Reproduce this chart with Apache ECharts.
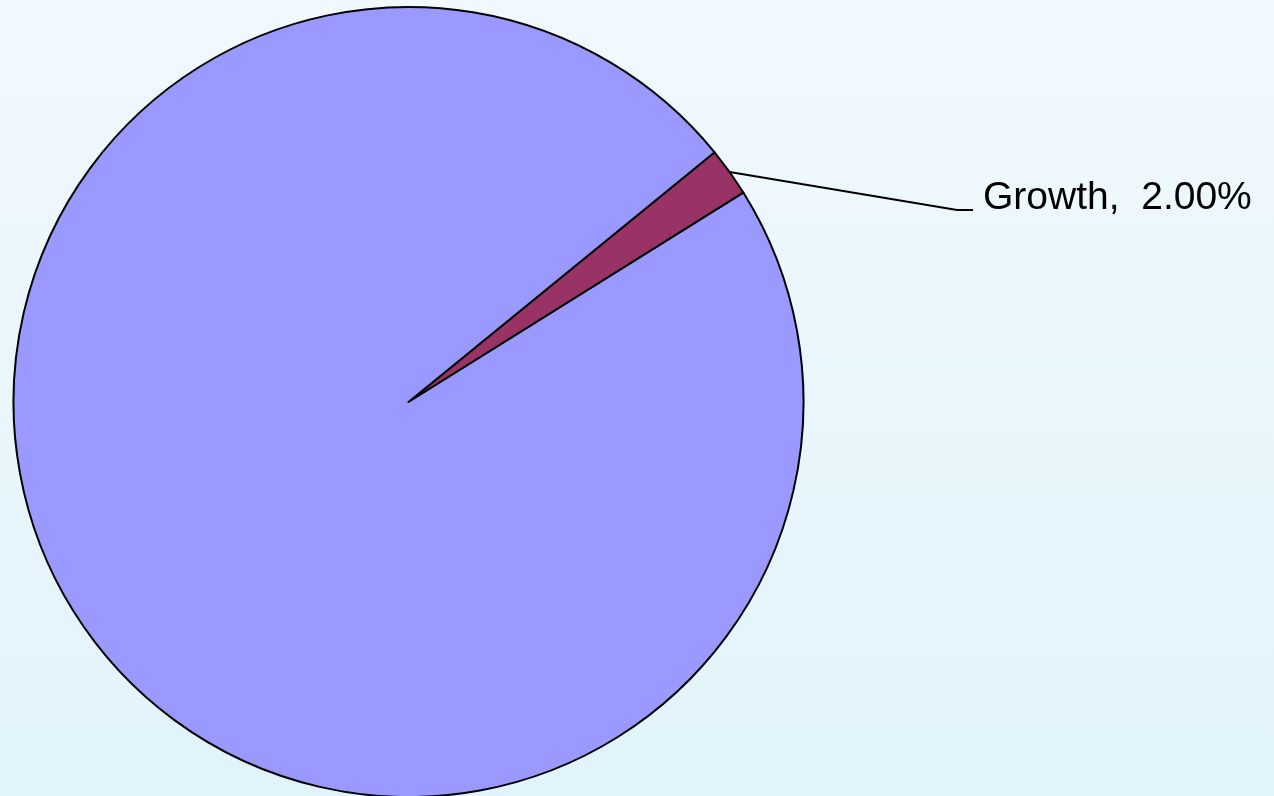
<!DOCTYPE html>
<html>
<head>
<meta charset="utf-8">
<script src="https://cdn.jsdelivr.net/npm/echarts@6/dist/echarts.min.js"></script>
<style>
html,body{margin:0;padding:0;width:1274px;height:796px;overflow:hidden;}
#chart{width:1274px;height:796px;}
</style>
</head>
<body>
<div id="chart"></div>
<script>
const categories = ['Growth', 'Other'];
const values = [2, 98];
const sliceColors = ['#993366', '#9999FF'];
const labelNames = ['Growth', ''];

const chart = echarts.init(document.getElementById('chart'), null, {renderer: 'canvas'});
const data = categories.map((c, i) => ({
  name: c,
  value: values[i],
  itemStyle: {color: sliceColors[i]},
  label: {show: labelNames[i] !== ''},
  labelLine: {show: labelNames[i] !== ''}
}));

chart.setOption({
  backgroundColor: {
    type: 'linear', x: 0, y: 0, x2: 0, y2: 1,
    colorStops: [{offset: 0, color: '#F1F9FD'}, {offset: 1, color: '#E1F3FB'}]
  },
  animation: false,
  series: [{
    type: 'pie',
    center: [408.5, 402],
    radius: 395,
    startAngle: 39.2,
    clockwise: true,
    data: data,
    itemStyle: {borderColor: '#000', borderWidth: 2},
    emphasis: {disabled: true},
    label: {
      show: true,
      position: 'outside',
      formatter: p => p.name + ',  ' + p.value.toFixed(2) + '%',
      fontFamily: 'Liberation Sans, Arial, sans-serif',
      fontSize: 39,
      color: '#000'
    },
    labelLine: {show: true, length: 30, length2: 30, lineStyle: {color: '#000', width: 2}},
    labelLayout: function (params) {
      const pts = params.labelLinePoints;
      const x = 983, y = 198;
      const out = {x: x, y: y, align: 'left', verticalAlign: 'middle'};
      if (pts) {
        out.labelLinePoints = [pts[0], [x - 26, y + 12], [x - 10, y + 12]];
      }
      return out;
    }
  }]
});
</script>
</body>
</html>
